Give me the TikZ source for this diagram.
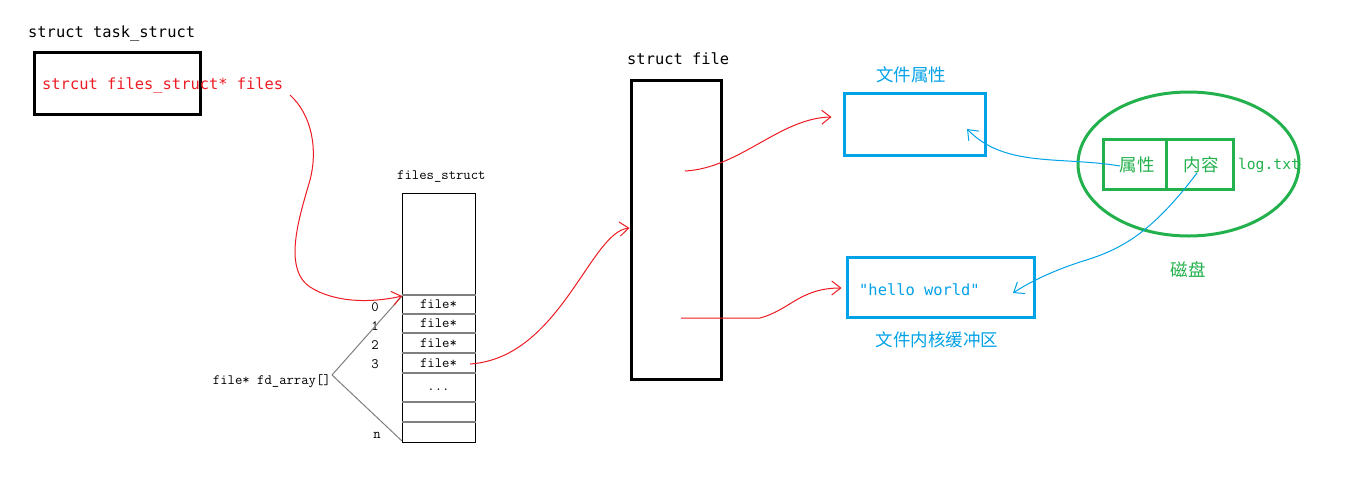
\documentclass[tikz,border=0pt]{standalone}
\usepackage{fontspec}
\usetikzlibrary{arrows.meta,shapes.geometric}
\newfontfamily\cjk{Noto Sans CJK SC}
\newfontfamily\dmono{DejaVu Sans Mono}
\tikzset{}
\definecolor{pred}{HTML}{ED1C24}
\definecolor{pblue}{HTML}{00A2E8}
\definecolor{pgreen}{HTML}{22B14C}
\definecolor{pgray}{HTML}{7F7F7F}
\tikzset{
  thickbox/.style={draw=black,line width=3pt,minimum width=#1,inner sep=0pt},
  bluebox/.style={draw=pblue,line width=3pt,inner sep=0pt},
  greenbox/.style={draw=pgreen,line width=3pt,inner sep=0pt,minimum height=50pt},
  bigtxt/.style={font=\dmono\fontsize{15.4}{18}\selectfont,inner sep=0pt},
  smtxt/.style={font=\ttfamily\fontsize{14.3}{16}\selectfont,inner sep=0pt},
  cjktxt/.style={font=\cjk\fontsize{17.5}{20}\selectfont,inner sep=0pt},
  redcurve/.style={draw=pred,line width=1pt,-{Straight Barb[length=9pt,width=14pt,line width=1pt]}},
  bluecurve/.style={draw=pblue,line width=1pt,-{Straight Barb[length=9pt,width=14pt,line width=1pt]}},
  rowline/.style={draw=pgray,line width=1.2pt},
}
\begin{document}
\begin{tikzpicture}[x=1pt,y=-1pt]
\useasboundingbox[fill=white] (0,0) rectangle (1370,477);

% task_struct
\node[bigtxt,anchor=west] (tslabel) at (28,33) {struct task\_struct};
\node[thickbox=166pt,minimum height=62pt] (task) at (117,83) {};
\node[bigtxt,anchor=west,text=pred] (files) at (42,85) {strcut files\_struct* files};
\coordinate (p1) at (290,95);

% files_struct
\node[smtxt,anchor=west] (fslabel) at (397,177) {files\_struct};
\node[draw=black,line width=1pt,minimum width=73pt,minimum height=249pt,inner sep=0pt] (fs) at (438.5,317.5) {};
\foreach \yy in {295,314,333,353,373,402,422}{
  \draw[rowline] (fs.west |- 0,\yy) -- (fs.east |- 0,\yy);
}
\node[smtxt] (r0) at (438.5,304.5) {file*};
\node[smtxt] (r1) at (438.5,323.5) {file*};
\node[smtxt] (r2) at (438.5,343) {file*};
\node[smtxt] (r3) at (438.5,363) {file*};
\node[smtxt] (rdots) at (438.5,390) {...};
\node[smtxt] (i0) at (375,307) {0};
\node[smtxt] (i1) at (375,326) {1};
\node[smtxt] (i2) at (375,345) {2};
\node[smtxt] (i3) at (375,364) {3};
\node[smtxt] (in) at (377,435) {n};
\node[smtxt,anchor=east] (fda) at (331,381) {file* fd\_array[]};
\coordinate (fdv) at (332,375);
\coordinate (fdtop) at (402,296);
\coordinate (fdbot) at (402,441);
\draw[pgray,line width=1pt] (fdtop) -- (fdv) -- (fdbot);

% struct file
\node[bigtxt,anchor=west] (sflabel) at (627,59) {struct file};
\node[thickbox=90pt,minimum height=299pt] (sf) at (676,229.5) {};

% blue boxes
\node[cjktxt,text=pblue] (attrlabel) at (911,75) {文件属性};
\node[bluebox,minimum width=141pt,minimum height=62pt] (attr) at (914.5,124) {};
\node[bluebox,minimum width=187pt,minimum height=60pt] (buf) at (940.5,287) {};
\node[bigtxt,text=pblue,anchor=west] (hello) at (859,290) {"hello world"};
\node[cjktxt,text=pblue] (buflabel) at (937,340) {文件内核缓冲区};

% disk
\node[draw=pgreen,line width=3pt,ellipse,minimum width=221pt,minimum height=144pt,inner sep=0pt] (disk) at (1188.5,164) {};
\node[greenbox,minimum width=63pt] (dattr) at (1135,164) {};
\node[greenbox,minimum width=67pt] (dcont) at (1200,164) {};
\node[cjktxt,text=pgreen] (dattrt) at (1137,165) {属性};
\node[cjktxt,text=pgreen] (dcontt) at (1201,165) {内容};
\node[bigtxt,text=pgreen,font=\dmono\fontsize{14.7}{17}\selectfont] (log) at (1269,165) {log.txt};
\node[cjktxt,text=pgreen] (disklabel) at (1188,270) {磁盘};

% red curves
\coordinate (sfa) at (685,171);
\coordinate (sfb) at (681,318);
\coordinate (r3s) at (470,364);
\draw[redcurve] (p1) .. controls (312,115) and (318,150) .. (310,180)
  .. controls (300,215) and (282,268) .. (310,287)
  .. controls (335,303) and (372,303) .. (fdtop);
\draw[redcurve] (r3s) .. controls (560,358) and (590,232) .. (sf.west |- 0,228);
\draw[redcurve] (sfa) .. controls (740,168) and (780,118) .. ([xshift=-11pt]attr.west |- 0,117);
\draw[redcurve] (sfb) -- (760,318) .. controls (790,310) and (800,288) .. ([xshift=-4pt]buf.west |- 0,288);

% blue curves
\coordinate (bstart1) at (1120,166);
\coordinate (bend1) at (967,129);
\coordinate (bstart2) at (1197,173);
\coordinate (bend2) at (1013,293);
\draw[bluecurve] (bstart1) .. controls (1060,156) and (1005,168) .. (bend1);
\draw[bluecurve] (bstart2) .. controls (1150,235) and (1120,250) .. (1080,262)
  .. controls (1050,272) and (1030,282) .. (bend2);
\end{tikzpicture}
\end{document}
